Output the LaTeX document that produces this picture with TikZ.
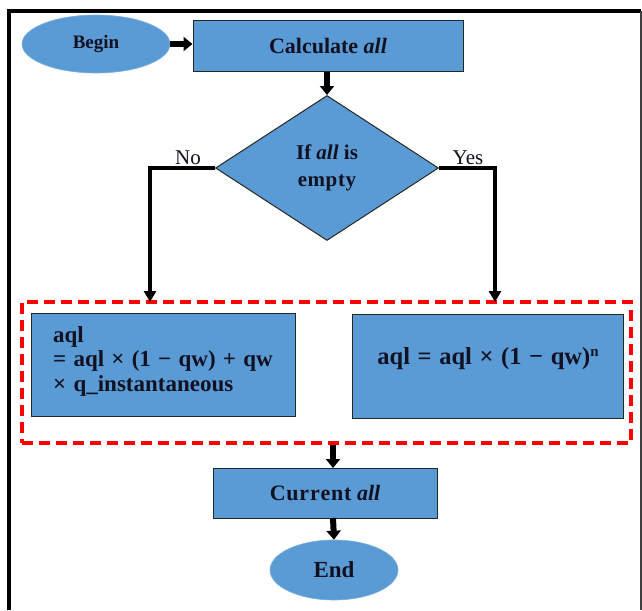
\documentclass[tikz,border=0pt]{standalone}
\usepackage{fontspec}
\setmainfont{Liberation Serif}
\usetikzlibrary{shapes.geometric,arrows.meta}
\definecolor{boxblue}{HTML}{5B9BD5}
\definecolor{ink}{HTML}{111122}
\newcommand{\opsp}[1]{\kern1.5pt{} #1 \kern1.5pt{}}
\tikzset{
  every node/.style={text=ink},
  blockbox/.style={draw=black!85, line width=1pt, fill=boxblue, rectangle, inner sep=0pt},
  terminal/.style={ellipse, fill=boxblue, draw=boxblue!80!white, line width=0.6pt, inner sep=0pt},
  decision/.style={diamond, draw=black!85, line width=1pt, fill=boxblue, inner sep=0pt},
  fatarrow/.style={line width=6pt, -{Triangle[width=14pt,length=9pt]}},
  flowline/.style={line width=3.2pt, -{Triangle[width=12pt,length=11pt]}},
  groupbox/.style={draw=red, line width=3.4pt, dash pattern=on 11pt off 6pt, rectangle, inner sep=0pt},
  lbl/.style={font=\fontsize{21}{24}\selectfont, inner sep=0pt},
  frm/.style={font=\bfseries\fontsize{23}{24.5}\selectfont, inner sep=0pt}
}
\begin{document}
\begin{tikzpicture}[x=1pt,y=-1pt]
  \useasboundingbox (0,0) rectangle (642,610);
  % outer frame
  \draw[line width=4pt] (9,610) -- (9,11) -- (641,11);
  \draw[line width=1.2pt, black!75] (641,11) -- (641,610);

  % nodes
  \node[terminal, minimum width=148pt, minimum height=58pt] (begin) at (96,44)
    {\bfseries\fontsize{19}{22}\selectfont Begin};
  \node[blockbox, minimum width=270pt, minimum height=50pt] (calc) at (328,46)
    {\bfseries\fontsize{22}{26}\selectfont Calculate \textit{all}};
  \node[decision, minimum width=223pt, minimum height=145pt] (dec) at (327,168) {};
  \node[align=center, font=\bfseries\fontsize{21}{27}\selectfont] (dectext) at (327,168)
    {If \textit{all} is\\e\kern0.5pt m\kern0.5pt p\kern1pt t\kern0.5pt y};
  \node[lbl, anchor=base] (no) at (188,164) {No};
  \node[lbl, anchor=base] (yes) at (468,164) {Yes};

  \node[groupbox, minimum width=609pt, minimum height=141pt] (group) at (326.5,372.5) {};
  \node[blockbox, minimum width=264pt, minimum height=103pt] (left) at (163,364.5) {};
  \node[frm, align=left, anchor=north west] (lefttext) at (53,326)
    {aql\\=\kern1.5pt{} aql\opsp{×}(1\opsp{−}qw)\opsp{+}qw\\×\kern1.5pt{} q\_instantaneous};
  \node[blockbox, minimum width=271pt, minimum height=104pt] (right) at (487.5,366) {};
  \node[frm, anchor=base, font=\bfseries\fontsize{24.5}{26}\selectfont] (righttext) at (488,364)
    {aql\opsp{=}aql\opsp{×}(1\opsp{−}qw)\raisebox{0.65ex}{\fontsize{15}{16}\selectfont n}};

  \node[blockbox, minimum width=224pt, minimum height=50pt] (cur) at (325,493)
    {\bfseries\fontsize{22}{26}\selectfont C\kern0.8pt u\kern0.8pt r\kern0.8pt r\kern0.8pt e\kern0.8pt n\kern0.8pt t \textit{all}};
  \node[terminal, minimum width=128pt, minimum height=60pt] (end) at (334,570)
    {\bfseries\fontsize{23}{26}\selectfont End};

  % connectors
  \coordinate (lcorner) at (150,168);
  \coordinate (rcorner) at (495,168);
  \coordinate (ltip) at (150,302);
  \coordinate (rtip) at (495,302);
  \draw[fatarrow] (begin.east) -- (begin.east -| calc.west);
  \draw[fatarrow] (calc.south -| dec.north) -- (dec.north);
  \draw[flowline] (dec.west) -- (lcorner) -- (ltip);
  \draw[flowline] (dec.east) -- (rcorner) -- (rtip);
  \draw[fatarrow] (333,445) -- (333,468);
  \draw[fatarrow] (333,518) -- (end.north);
\end{tikzpicture}
\end{document}
